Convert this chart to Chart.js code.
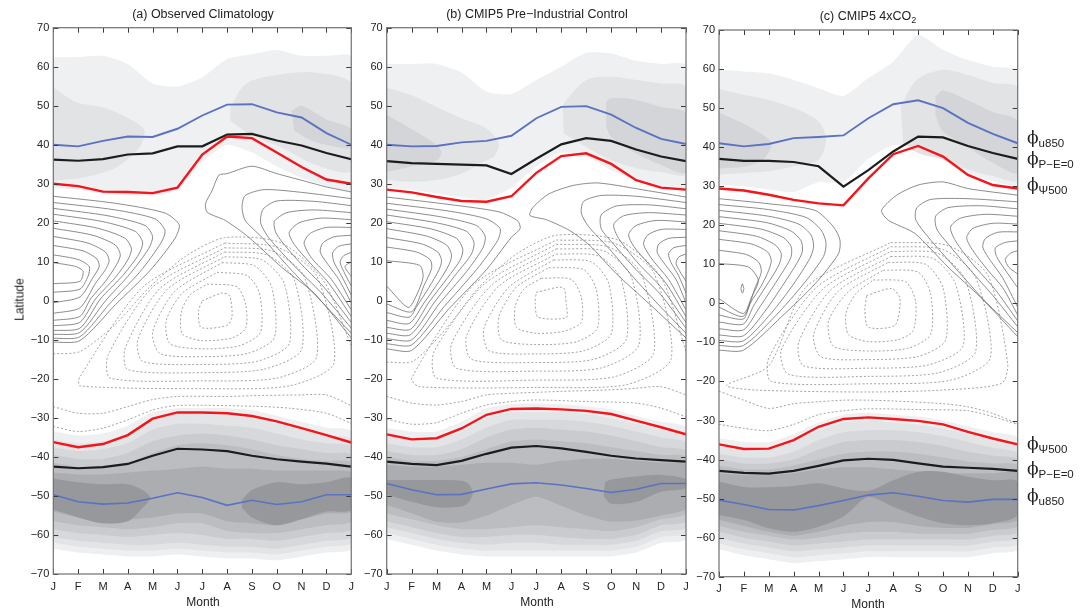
<!DOCTYPE html>
<html>
<head>
<meta charset="utf-8">
<script src="https://cdn.jsdelivr.net/npm/chart.js@4.4.1/dist/chart.umd.min.js"></script>
<style>
body{margin:0;background:#fff;width:1083px;height:612px;position:relative;overflow:hidden;font-family:"Liberation Sans",Arial,sans-serif;color:#222}
canvas{position:absolute;top:0}
.t{position:absolute;font-size:12.5px;line-height:15px;white-space:nowrap;transform:translateX(-50%)}
.lab{position:absolute;white-space:nowrap;font-size:12px;line-height:18px}
.lab .p{font-family:"DejaVu Serif",serif;font-size:17px}
.lab sub{font-size:11.5px;vertical-align:-4px}
</style>
</head>
<body>
<canvas id="ca" width="360" height="612" style="left:0px"></canvas>
<canvas id="cb" width="335" height="612" style="left:360px"></canvas>
<canvas id="cc" width="388" height="612" style="left:695px"></canvas>

<div class="t" style="left:203px;top:7px">(a) Observed Climatology</div>
<div class="t" style="left:537px;top:7px">(b) CMIP5 Pre−Industrial Control</div>
<div class="t" style="left:868px;top:9px">(c) CMIP5 4xCO<sub style="font-size:9px;vertical-align:-3px">2</sub></div>
<div class="t" style="left:203px;top:595px;font-size:12px">Month</div>
<div class="t" style="left:537px;top:595px;font-size:12px">Month</div>
<div class="t" style="left:868px;top:597px;font-size:12px">Month</div>
<div class="t" style="left:20px;top:292px;font-size:12px;transform:translateX(-50%) rotate(-90deg)">Latitude</div>

<div class="lab" style="left:1027px;top:128px"><span class="p">ϕ</span><sub>u850</sub></div>
<div class="lab" style="left:1027px;top:149px"><span class="p">ϕ</span><sub>P−E=0</sub></div>
<div class="lab" style="left:1027px;top:175px"><span class="p">ϕ</span><sub>Ψ500</sub></div>
<div class="lab" style="left:1027px;top:434px"><span class="p">ϕ</span><sub>Ψ500</sub></div>
<div class="lab" style="left:1027px;top:459px"><span class="p">ϕ</span><sub>P−E=0</sub></div>
<div class="lab" style="left:1027px;top:486px"><span class="p">ϕ</span><sub>u850</sub></div>

<script>
// month tick labels (J .. J, 13 points)
const months = ["J","F","M","A","M","J","J","A","S","O","N","D","J"];

// (a) observed climatology: edge latitudes
const obsU850N = [40,39.6,41,42.1,42,44.1,47.5,50.3,50.4,48.3,47,43,40];
const obsPE0N  = [36.2,35.9,36.3,37.5,37.8,39.6,39.6,42.6,42.8,41.1,39.8,37.9,36.3];
const obsPsiN  = [30,29.4,28,27.9,27.6,29,37.5,42.1,41.7,38,34.3,31.1,30];
const obsPsiS  = [-36.2,-37.5,-36.7,-34.4,-30.2,-28.6,-28.6,-28.8,-29.5,-30.9,-32.6,-34.4,-36.3];
const obsPE0S  = [-42.5,-42.9,-42.6,-41.8,-39.7,-37.9,-38.1,-38.5,-39.7,-40.6,-41.2,-41.7,-42.5];
const obsU850S = [-49.7,-51.5,-52.1,-51.8,-50.6,-49.2,-50.4,-52.4,-51.1,-52.2,-51.5,-49.7,-49.7];

// (b) CMIP5 pre-industrial control
const piU850N = [40,39.6,39.7,40.6,41,42.3,46.8,49.7,49.9,47.7,44.3,41.5,40.2];
const piPE0N  = [35.8,35.3,35.1,34.9,34.7,32.5,36.4,40.1,41.7,41,38.8,37,35.8];
const piPsiN  = [28.5,27.8,26.6,25.6,25.4,26.8,32.8,37.1,37.8,35.1,30.9,29,28.5];
const piPsiS  = [-34.2,-35.5,-35.2,-32.7,-29.2,-27.7,-27.6,-27.8,-28.2,-29,-30.7,-32.4,-34.2];
const piPE0S  = [-41.2,-41.8,-42.1,-41,-39.2,-37.6,-37.2,-37.8,-38.7,-39.7,-40.4,-40.8,-41.2];
const piU850S = [-46.8,-48.4,-49.7,-49.6,-48.2,-46.9,-46.6,-47.2,-48.1,-49.1,-48.3,-46.8,-46.8];

// (c) CMIP5 4xCO2
const co2U850N = [41,40.2,40.8,42.3,42.6,43,47.4,51,52,50,46.2,43.4,41];
const co2PE0N  = [37,36.5,36.5,36.2,35.1,29.9,34.1,38.9,42.7,42.5,40.3,38.5,37];
const co2PsiN  = [29.4,28.9,27.8,26.5,25.6,25.1,32,38.2,40.3,37.6,32.9,30.3,29.4];
const co2PsiS  = [-36.1,-37.3,-37.2,-35,-31.6,-29.6,-29.2,-29.6,-30.1,-31,-32.9,-34.6,-36.1];
const co2PE0S  = [-42.9,-43.4,-43.6,-42.9,-41.6,-40.2,-39.8,-40.1,-41,-41.8,-42.1,-42.4,-42.9];
const co2U850S = [-50.4,-51.5,-52.8,-52.9,-51.8,-50.5,-49.1,-48.5,-49.4,-50.5,-50.9,-50.2,-50.2];

// northern shading: outer band edges and blobs (x,lat pairs)
const obsNhTop = [62.4,62.5,62.8,60.7,55.7,54.9,57.3,62,63.2,64.3,62.8,62.8,62.6];
const obsNhBot = [29,28.5,27.5,27,27,28.5,35.5,40,38,34.5,31.5,29.5,28.5];
const obsNhMid = [[0,54.7,0.93,50.9,2,49.6,3.2,46.2,3.67,43.6,3.47,39.3,2.53,34.2,1.2,31.6,0,30.8],
                  [7.13,49.6,7.6,54.7,8,56.5,9.2,58.1,10.5,58.5,12,55.5,12,33.5,10.5,35,9.2,39.3,7.9,42.7,7.13,46.2]];
const obsNhDark = [[9.6,48.7,10,50,11,46.5,12,44,12,39.3,11,40,10.4,41,9.7,43.6]];

const piNhTop = [60.7,60.7,60.7,58.5,53.6,53,56.6,60,63.6,63.4,61.5,60.7,60.4];
const piNhBot = [29,28.5,27.5,26.5,26,29,34.5,38,37,33.5,31,29.5,29];
const piNhMid = [[0,54.6,1,52.7,2,49.7,3,46.8,4,44.2,4.5,40.3,4.3,37,4,36,3,32.6,2,31,1,30.5,0,31],
                 [7.05,50,7.2,51.5,8,56.6,9,57.4,10,56.6,11,55.7,12,54.7,12,32.6,11,33,10,34,9,36,8,39.5,7.1,42.9]];
const piNhDark = [[0,47.6,1,44,2,40,2.2,38,2,36,1,34.5,0,33],
                  [8.8,51,9,52,10,51.5,11,49.7,12,48,12,33,11,34.8,10,37.8,9,42,8.8,44.6]];

const co2NhTop = [59.8,59.4,58.9,57.2,55.1,53.1,57.7,61.9,68.7,64.9,62.3,60.6,59.6];
const co2NhBot = [30.4,30,29.1,28.5,31,31,37,40.5,39.5,36.8,33.4,31.3,30.4];
const co2NhMid = [[0,54.9,1,53.4,2,52.1,3,50,4,46.6,4.3,41.9,4,36.8,3,35.1,2,33.8,1,33.4,0,33],
                  [7.3,50.5,7.94,57.2,9,59.8,10,58.5,11,56.4,12,55.1,12,31.7,11,32.6,10,34.3,9,36.8,8,38.5,7.4,41]];
const co2NhDark = [[0,48.9,1,46,2,42,2.1,40,1.7,36.5,1,35,0,34.5],
                   [8.7,53,9,54.5,10,52,11,49,12,46.6,12,33.5,11,36,10,40,9,44,8.7,48]];

// southern shading: nested levels (top and bottom edges per month), darkest blobs
const obsShTop = [
 [-33.5,-34.5,-34,-32,-28.5,-27.5,-27.5,-27.5,-28,-29.5,-31,-32.5,-33.5],
 [-35.5,-36.5,-36,-34,-30.5,-29,-29,-29.5,-30,-31.5,-33,-34.5,-35.5],
 [-37.5,-38.5,-38,-36.5,-33,-31.5,-31.5,-32,-32.5,-34,-35.5,-36.5,-37.5],
 [-39.5,-40.5,-40.5,-39,-36,-34.5,-34,-34.5,-35.5,-37,-38,-39,-39.5],
 [-41.5,-42.5,-42.5,-41.5,-39,-37,-36.5,-37,-38,-39.5,-40.5,-41,-41.5],
 [-44,-44.5,-44.5,-44,-43.5,-43,-42.5,-43,-43,-43.5,-43.5,-43.5,-44]];
const obsShBot = [
 [-63.5,-64.5,-65,-65.5,-65.5,-65,-65.5,-66,-66,-66.5,-65.5,-64.5,-63.5],
 [-62,-63,-63.5,-64,-64,-63.5,-64,-64.5,-64.5,-65,-64,-63,-62],
 [-60.5,-61.5,-62,-62.5,-62.5,-62,-62.5,-63,-63,-63.5,-62.5,-61.5,-60.5],
 [-58.5,-59.5,-60,-60.5,-60,-59.5,-60,-61,-61,-61.5,-60.5,-59.5,-58.5],
 [-56.5,-57.5,-58,-58.5,-58,-57,-57,-59,-59.5,-59.5,-58.5,-57.5,-56.5],
 [-54,-55.5,-56,-56,-55.5,-54.5,-54.5,-56.5,-57,-57.5,-56,-54.5,-54]];
const obsShBlobs = [[0,-45.5,1,-46.5,2,-47,3,-47,3.6,-48.5,3.9,-50.5,3.6,-53,3,-56.5,2,-57,1,-55.5,0,-53.5],
                    [7.6,-51,8,-48.5,9,-46.5,10,-47,11,-46.5,12,-45.5,12,-53.5,11,-54,10,-56,9,-57.5,8,-55.5,7.6,-53]];

const piShTop = [
 [-32.5,-33.5,-33.5,-31,-27.5,-26.5,-26.3,-26.5,-27,-27.8,-29.5,-31,-32.5],
 [-34.5,-35.5,-35.5,-33.5,-30,-28.5,-28.5,-28.5,-29,-30,-31.5,-33,-34.5],
 [-36.5,-37.5,-37.5,-35.5,-32.5,-30.5,-30.5,-30.5,-31,-32,-33.5,-35,-36.5],
 [-38.5,-39.5,-39.5,-38,-35,-33,-32.5,-33,-33.5,-34.5,-36,-37.5,-38.5],
 [-40,-41,-41,-40,-38,-36,-35.5,-36,-36.5,-37.5,-38.5,-39.5,-40],
 [-42,-42.5,-42.5,-42,-41.5,-41.5,-42,-41,-40.5,-40.5,-41,-41.5,-42]];
const piShBot = [
 [-61,-62.5,-64,-65,-65.5,-65.5,-65.5,-65.5,-65.5,-65.5,-64.5,-62,-61],
 [-59.5,-61,-62.5,-63.5,-64,-64,-64,-64,-64,-64,-63,-60.5,-59.5],
 [-58,-59.5,-61,-62,-62.5,-62,-62,-62.5,-62.5,-62.5,-61.5,-59,-58],
 [-56.5,-58,-59.5,-60.5,-60.5,-60,-60,-60.5,-61,-61,-60,-57.5,-56.5],
 [-54.5,-56,-57.5,-58.5,-58.5,-58,-57.5,-58,-58.5,-59,-58,-56,-54.5],
 [-52.3,-54.4,-56.6,-56.8,-55,-52.3,-50.2,-52.5,-55,-56.6,-56.3,-55,-53.2]];
const piShBlobs = [[0,-45.9,1,-45.9,2,-45.9,3,-46.1,3.3,-47,3.45,-49.3,3.3,-51.5,3,-52.7,2,-52.9,1,-51.5,0,-49.7],
                   [8.75,-46.5,9,-45.8,10,-45,11,-44.6,12,-45.7,12,-48,11,-48.9,10,-51.5,9,-52,8.7,-50]];

const co2ShTop = [
 [-34.5,-35.5,-35.5,-33.5,-30.5,-28.5,-28,-28.5,-29,-30,-31.5,-33,-34.5],
 [-36.5,-37.5,-37.5,-35.5,-32.5,-30.5,-30,-30.5,-31,-32,-33.5,-35,-36.5],
 [-38.5,-39.5,-39.5,-38,-35,-33,-32.5,-32.5,-33,-34,-35.5,-37,-38.5],
 [-40,-41,-41,-40,-37.5,-35.5,-35,-35,-35.5,-36.5,-38,-39,-40],
 [-41.5,-42.5,-42.5,-41.5,-40,-38.5,-38,-38,-38.5,-39.5,-40.5,-41,-41.5],
 [-43.5,-44,-44,-43.5,-42.5,-42,-42,-42.5,-43,-43.5,-43.5,-43.5,-43.5]];
const co2ShBot = [
 [-63,-64.5,-65.5,-66.5,-66,-65.5,-65,-65,-65,-65,-65,-64,-63],
 [-61.5,-63,-64,-65,-64.5,-64,-63.5,-63.5,-63.5,-63.5,-63.5,-62.5,-61.5],
 [-60,-61.5,-62.5,-63.5,-63,-62.5,-62,-62,-62,-62,-62,-61,-60],
 [-58.5,-60,-61,-62,-61.5,-61,-60.5,-60.5,-60.5,-60.5,-60.5,-59.5,-58.5],
 [-57,-58.5,-59.5,-60.5,-60,-59,-58.5,-58.5,-59,-59,-59,-58,-57],
 [-55.5,-57,-58.5,-59.5,-58.5,-57,-56,-56,-57,-57.5,-57.5,-56.5,-55.5]];
const co2ShBlobs = [[0,-45.7,1,-47,2,-47.1,3,-46.8,4,-46.1,5,-47.4,6,-48,7,-45.3,8,-43.1,9,-43.1,10,-44.4,11,-45.3,12,-45.7,
                     12,-54.2,11,-56.3,10,-56.8,9,-56.3,8,-54.6,7,-52.1,6,-49.6,5,-54.6,4,-57.2,3,-58.5,2,-57.6,1,-55.5,0,-54.2]];

// streamfunction contours (x = month index, y = latitude), solid = positive, dashed = negative
const obsSolid = [
 [0,26.8,2.5,25,4.5,22.5,5.07,19.5,4.9,16,3.9,7.8,2.5,-1,1.07,-10.2,0,-10.6],
 [0,25.2,2.5,23.3,4.1,21,4.5,18,4.35,15,3.5,7.5,2.3,-0.5,1.07,-9.2,0,-9.6],
 [0,23.7,2.2,21.8,3.7,19.3,4,16.5,3.85,13.5,3.1,7,2.1,0,1.07,-8.1,0,-8.6],
 [0,22.2,2,20.3,3.3,17.8,3.6,15,3.45,12,2.8,6.5,1.9,0.5,1.07,-7,0,-7.6],
 [0,20.5,1.8,18.6,2.9,16,3.15,13.3,3,10.5,2.5,6,1.7,0.5,1.07,-5.5,0,-6.4],
 [0,18.6,1.6,16.8,2.5,14.3,2.7,11.8,2.55,9.3,2.1,5,1.5,0.5,1.07,-4,0,-5],
 [0,16.5,1.4,14.8,2.1,12.5,2.25,10.3,2.1,8,1.7,4.5,1.07,-1.8,0,-3.2],
 [0,14.2,1.2,12.8,1.75,10.8,1.85,8.8,1.6,6,1.07,1,0,-0.5],
 [0,11.8,1,10.6,1.45,8.8,1.4,6.3,1.07,3,0,2.2],
 [0,9.8,0.9,8.8,1.2,7.6,1.07,5,0,4.4],
 [12,27.9,11,29.2,10,30.9,9,32.6,8,34.5,7,32.6,6.67,32.2,6.4,28.3,6.13,24.9,6.2,22.7,6.93,20.6,7.87,16.3,9.2,8.6,10.53,1.8,12,-9.5],
 [12,26.2,10,27.8,8.5,28.5,7.73,27,7.6,24,7.73,20.6,8.4,16.3,9.5,8.5,10.7,0.5,12,-8.3],
 [12,24.4,10.5,25.5,9,25.6,8.45,23.5,8.35,20,8.7,16,9.7,9,10.8,2,12,-7],
 [12,22.6,10.5,23.3,9.4,22.6,8.9,20.3,9,17,9.9,10,10.9,3.5,12,-5.5],
 [12,20.8,10.8,21.2,9.9,20,9.5,17.5,9.7,14.5,10.3,10,11.1,4.5,12,-4],
 [12,18.8,11,18.8,10.35,17.3,10.1,14.8,10.4,11,11.2,5.5,12,-2.3],
 [12,16.8,11.3,16.4,10.85,14.8,10.75,12.5,11.1,9,11.5,5.5,12,-0.5],
 [12,14.6,11.5,14,11.25,12.3,11.3,10,11.6,6.5,12,1.5],
 [12,12.4,11.7,11.6,11.55,10,11.7,7.5,12,3.8],
 [12,10,11.75,8.8,12,6.2]];
const obsDashed = [
 [6,0,6.8,2,7.1,1.3,7.2,-4,7,-6.3,5.95,-6.8,5.85,-2.5,6,0],
 [6.2,4.3,7.4,3.6,7.75,-1,7.75,-7,7.2,-9.5,6,-10.2,5.2,-8.5,5.15,-3,5.5,1.5,6.2,4.3],
 [6.6,7.3,7.8,6.5,8.3,2,8.35,-8,7.5,-11.5,6,-12.3,4.7,-11,4.55,-5,5.2,2,6.6,7.3],
 [6.8,9.8,8.1,9,8.8,3.5,8.9,-9.5,7.8,-13.5,6,-14.3,4.3,-13.5,4,-8,4.9,2.5,6.8,9.8],
 [6.9,11.3,8.4,10.5,9.3,4.5,9.5,-11,8.2,-15.5,6,-16.3,3.6,-15.5,3.4,-10,4.6,3,6.9,11.3],
 [6.9,12.5,8.6,11.8,9.7,5.5,10,-12.5,8.5,-17.5,6,-18.4,3,-17.6,2.9,-12,4.3,3.2,6.9,12.5],
 [6.9,13.6,8.8,12.8,10.1,6.3,10.6,-14.5,9,-19.8,6,-20.5,2.3,-19.8,2.2,-14,4,3.5,6.9,13.6],
 [6.9,14.8,9,13.8,10.6,6.5,11.3,-16,9.5,-21.8,6,-22.5,1.07,-21.8,1.07,-19.5,3.6,3.5,6.9,14.8],
 [0,-13.6,1.07,-13,2.5,-6,3.8,3,5.3,11.3,6.9,16.2,9.2,14.8,10.9,5,12,-11.5],
 [0,-27.1,1,-28.8,2,-28.8,3,-27.1,4,-25.3,5,-24.5,7,-24.5,8,-24.3,10,-24.1,11,-24.1,12,-26.9],
 [0,-32.2,1,-33.5,2,-32.6,3,-30.5,4,-28,5,-26.8,8,-27,9.5,-27.5,11,-28.8,12,-31.4]];

const piSolid = [
 [0,26.6,2.5,24.7,4.5,22.8,5.25,20.5,5.35,18.5,5,16.3,4,8,2.5,-2,1,-12.7,0,-12.3],
 [0,25,2.5,23,4,21,4.55,18.5,4.45,15.5,3.6,8,2.3,-1.5,1,-11.3,0,-11],
 [0,23.5,2.2,21.5,3.6,19.3,3.95,16.5,3.85,13.5,3.2,7.5,2.1,-0.8,1,-10,0,-9.7],
 [0,22,2,20,3.2,17.8,3.5,15,3.4,12,2.8,7,1.9,-0.5,0.95,-8.7,0,-8.3],
 [0,20.3,1.8,18.4,2.8,16,3.05,13.3,2.95,10.5,2.45,6,1.7,-0.3,0.95,-7.3,0,-6.8],
 [0,18.5,1.6,16.6,2.4,14.3,2.6,11.8,2.5,9.3,2.1,5,1.5,-0.5,0.9,-5.8,0,-5],
 [0,16.2,1.4,14.6,2.05,12.5,2.2,10.3,2.1,8,1.7,3.5,1.2,-1.5,0.9,-4.2,0,-3],
 [0,13.8,1.2,12.5,1.75,10.5,1.8,8.3,1.5,4,1,-2.8,0,-0.8],
 [0,10.3,1.32,9.1,1.46,6.1,1.2,1.5,0.86,-1.7,0,3.8],
 [12,26.6,10.5,28.2,8.5,30.2,7.5,29.6,6.5,27.4,5.87,24,5.74,21.9,6.4,20.8,7.34,18,8.14,14.2,9.2,7,10.55,-0.9,12,-9.5],
 [12,25.2,10,26.8,8.6,27,7.9,25.5,7.8,22.5,8.1,19,8.9,13.5,9.9,6,10.9,-1,12,-8.3],
 [12,23.6,10.5,24.6,9.2,24.3,8.6,22,8.6,18.5,9.1,14.5,10,8,11,1.5,12,-7],
 [12,22,10.5,22.6,9.5,21.8,9.1,19.5,9.3,16,10.1,9.5,11,3.5,12,-5.5],
 [12,20.2,10.8,20.6,10,19.3,9.7,17,9.9,14,10.5,9.5,11.2,4.5,12,-4],
 [12,18.3,11,18.3,10.45,16.8,10.3,14.5,10.6,11,11.3,5.5,12,-2.3],
 [12,16.3,11.3,16,10.9,14.5,10.85,12.3,11.2,9,11.6,5.5,12,-0.5],
 [12,14.2,11.5,13.6,11.3,12,11.4,9.8,11.7,6.5,12,2],
 [12,12,11.7,11.2,11.6,9.6,11.75,7.6,12,5]];
const piDashed = [
 [6,2.2,7.07,3.4,7.2,-1,7.2,-4.3,6.07,-4.2,5.95,-0.5,6,2.2],
 [6.2,5.8,7.4,5.5,7.8,1,7.8,-5.5,7.1,-7.8,6,-8.3,5.2,-6.8,5.15,-1.5,5.5,3,6.2,5.8],
 [6.5,8.5,7.9,8,8.4,3,8.45,-7,7.6,-10.5,6,-11.2,4.6,-10,4.5,-4,5.2,3.5,6.5,8.5],
 [6.7,10.5,8.2,10,8.9,4.5,9,-8.5,7.9,-12.8,6,-13.6,4.1,-12.8,3.9,-7,4.9,3.5,6.7,10.5],
 [6.8,12,8.5,11.5,9.4,5.5,9.6,-10,8.3,-15,6,-15.8,3.4,-15,3.2,-9,4.5,3.8,6.8,12],
 [6.8,13.3,8.7,12.8,9.8,6.3,10.1,-11.5,8.6,-17.2,6,-18,2.8,-17.3,2.6,-11,4.2,4,6.8,13.3],
 [6.8,14.5,8.9,13.8,10.2,7,10.7,-13.5,9.1,-19.5,6,-20.3,2,-19.8,1.9,-13,3.9,4.2,6.8,14.5],
 [6.8,15.6,9.1,14.8,10.7,7.3,11.4,-15,9.6,-21.5,6,-22.2,1.3,-22,1,-19.8,3.5,4.2,6.8,15.6],
 [0,-15.7,1.05,-15.5,2.4,-7,3.7,3.5,5.2,12,6.8,16.8,9.3,15.5,11,6,12,-13],
 [0,-24.5,1,-26.2,2,-26.7,3,-25.8,4,-24.1,5,-23.7,7,-23.2,9,-22.8,10,-22.4,11,-22,12,-24.1],
 [0,-30.3,1,-31.6,2,-31.2,3,-28.8,4,-26.7,5,-25.8,6,-25.4,8,-25.8,10,-26.2,11,-27.5,12,-29.7]];

const co2Solid = [
 [0,26.8,2,25.5,3.86,23.8,4.6,19.6,4.86,16.2,4.8,12.7,3.86,5,2.5,-3.5,0.98,-12,0,-12],
 [0,25.3,2,24,3.5,22,4.1,18.8,4.3,15.5,4.2,12,3.4,5,2.3,-3,0.98,-10.8,0,-10.8],
 [0,23.8,2,22.3,3.2,20.3,3.7,17.5,3.8,14.5,3.65,11.5,3,5,2.1,-2.5,0.98,-9.6,0,-9.5],
 [0,22.2,1.9,20.7,2.9,18.5,3.3,16,3.35,13.3,3.15,10.5,2.6,5,1.85,-2,0.98,-8.3,0,-8.1],
 [0,20.5,1.7,19,2.6,16.8,2.9,14.5,2.9,12,2.7,9.5,2.25,5,1.6,-1.3,0.98,-6.8,0,-6.5],
 [0,18.6,1.5,17.2,2.25,15,2.5,12.8,2.45,10.5,2.25,8,1.9,4.5,1.4,-0.5,0.98,-5.3,0,-4.8],
 [0,16.4,1.3,15.2,1.95,13.2,2.1,11,2,8.5,1.7,4.5,1.25,0,0.98,-4,0,-3],
 [0,13.6,1.1,12.5,1.6,10.5,1.7,8,1.45,4,0.98,-3.3,0,-1],
 [0,10.2,1.18,9.3,1.58,5.9,1.3,1.5,0.98,-2.6,0,1.2],
 [0.94,5,1,3.8,0.94,2.6,0.88,3.8,0.94,5],
 [12,27.7,10,29.4,9,31.1,8,30.3,7.14,27.7,6.53,23.8,6.8,21.3,7.87,17.9,9.2,9.3,10.5,1.6,12,-8.5],
 [12,26,10,26.8,8.5,26.6,7.95,24.5,7.9,21.5,8.4,17,9.5,9,10.7,0.5,12,-7.5],
 [12,24.2,10.5,25,9.2,24.5,8.7,22.3,8.75,19,9.3,14.5,10.1,8.5,11,2,12,-6],
 [12,22.3,10.7,22.8,9.7,21.8,9.3,19.5,9.5,16,10.2,10,11.1,3.5,12,-4.5],
 [12,20.3,11,20.5,10.2,19.2,9.95,16.8,10.2,13.5,10.8,8.5,11.4,4,12,-3],
 [12,18.3,11.2,18.2,10.7,16.6,10.6,14.3,10.9,11,11.4,6.5,12,-1],
 [12,16,11.5,15.6,11.1,14.2,11.15,12,11.45,9,12,4],
 [12,13.5,11.7,12.8,11.5,11.2,11.65,9.2,12,7.5]];
const co2Dashed = [
 [5.93,2,6.93,3.8,7.27,1.2,7.07,-5.6,6,-6.1,5.86,-1.8,5.93,2],
 [6.2,6,7.5,5.5,7.9,0.5,7.8,-7,7.2,-9.3,6,-9.8,5.2,-8,5.1,-2.5,5.5,2.5,6.2,6],
 [6.6,8.5,8,8,8.5,2.5,8.5,-8,7.6,-11.5,6,-12.2,4.6,-11,4.4,-4.5,5.2,3,6.6,8.5],
 [6.8,10.5,8.3,10,9,4,9.1,-9.5,8,-13.6,6,-14.4,4.1,-13.7,3.8,-8,4.8,3.2,6.8,10.5],
 [6.9,12,8.6,11.5,9.5,5,9.8,-11,8.4,-15.8,6,-16.6,3.4,-16,3.2,-10,4.5,3.5,6.9,12],
 [6.9,13.3,8.8,12.8,9.9,6,10.3,-12.5,8.8,-17.8,6,-18.7,2.8,-18.2,2.5,-12,4.2,3.8,6.9,13.3],
 [6.9,14.5,9,13.8,10.3,6.8,10.9,-14,9.3,-19.7,6,-20.6,2.1,-20,2,-14,3.9,4,6.9,14.5],
 [6.9,15.6,9.2,14.8,10.8,7.2,11.6,-15.5,11.35,-20.5,9,-22.2,6,-22.7,1.5,-22.2,0.3,-21,2,-16,3.5,4.2,6.9,15.6],
 [0,-22.5,1,-24.8,2,-26.9,3,-25.7,4,-25.2,5,-24.8,6,-24.8,7,-25,9,-25.7,10,-26.5,11,-28.2,12,-30.8],
 [0,-31,1,-32,2,-32.6,3,-31,4,-28.5,5,-27.5,6,-27,8,-27.2,10,-27.5,11,-29,12,-31]];

// drawing styles
const RED = "#f5141a", BLACK = "#1c1c1c", BLUE = "#5b72c2";
const NH_COLORS = ["#eff0f2", "#e2e3e5", "#d4d5d8"];
const SH_COLORS = ["#eeeff1", "#e3e4e6", "#d7d8db", "#cacbce", "#bcbdc0", "#acadb0"];
const SH_DARK = "#97989b";

function pairs(flat) {
  const pts = [];
  for (let i = 0; i < flat.length; i += 2) pts.push({x: flat[i], y: flat[i + 1]});
  return pts;
}
function band(top, bot) {
  const up = top.map((v, i) => ({x: i, y: v}));
  const dn = bot.map((v, i) => ({x: i, y: v})).reverse();
  return up.concat(dn);
}
function area(points, color, order, tension) {
  return {data: points, fill: "shape", backgroundColor: color, borderWidth: 0, borderColor: "rgba(0,0,0,0)",
          pointRadius: 0, order: order, tension: tension || 0};
}
function contour(flat, dashed) {
  return {data: pairs(flat), fill: false, borderColor: dashed ? "#8c8c8c" : "#6e6e6e", borderWidth: 0.8,
          borderDash: dashed ? [2, 2] : [], pointRadius: 0, tension: 0.25, order: 1};
}
function edge(vals, color, width) {
  return {data: vals.map((v, i) => ({x: i, y: v})), fill: false, borderColor: color, borderWidth: width,
          pointRadius: 0, tension: 0, order: 0};
}

const frame = {
  id: "frame",
  afterDraw(chart) {
    const {ctx, chartArea: a, scales: {x, y}} = chart;
    ctx.save();
    ctx.strokeStyle = "#3a3a3a";
    ctx.lineWidth = 1;
    ctx.beginPath();
    x.ticks.forEach(t => {
      const px = Math.round(x.getPixelForValue(t.value)) + 0.5;
      ctx.moveTo(px, a.bottom); ctx.lineTo(px, a.bottom - 5);
      ctx.moveTo(px, a.top); ctx.lineTo(px, a.top + 5);
    });
    y.ticks.forEach(t => {
      const py = Math.round(y.getPixelForValue(t.value)) + 0.5;
      ctx.moveTo(a.left, py); ctx.lineTo(a.left + 5, py);
      ctx.moveTo(a.right, py); ctx.lineTo(a.right - 5, py);
    });
    ctx.stroke();
    ctx.strokeStyle = "#707070";
    ctx.lineWidth = 1.2;
    ctx.strokeRect(a.left, a.top, a.right - a.left, a.bottom - a.top);
    ctx.restore();
  }
};

function makePanel(id, geo, d) {
  const sets = [];
  sets.push(area(band(d.nhTop, d.nhBot), NH_COLORS[0], 30, 0.2));
  d.nhMid.forEach(p => sets.push(area(pairs(p), NH_COLORS[1], 29, 0.3)));
  d.nhDark.forEach(p => sets.push(area(pairs(p), NH_COLORS[2], 28, 0.3)));
  d.shTop.forEach((t, k) => sets.push(area(band(t, d.shBot[k]), SH_COLORS[k], 20 - k, 0.2)));
  d.shBlobs.forEach(p => sets.push(area(pairs(p), SH_DARK, 10, 0.3)));
  d.solid.forEach(c => sets.push(contour(c, false)));
  d.dashed.forEach(c => sets.push(contour(c, true)));
  sets.push(edge(d.psiN, RED, 2.4), edge(d.psiS, RED, 2.4));
  sets.push(edge(d.pe0N, BLACK, 2.2), edge(d.pe0S, BLACK, 2.2));
  sets.push(edge(d.u850N, BLUE, 1.9), edge(d.u850S, BLUE, 1.6));

  new Chart(document.getElementById(id), {
    type: "line",
    data: {datasets: sets},
    options: {
      responsive: false, animation: false, events: [],
      layout: {padding: {top: geo.top, right: geo.right, left: 0, bottom: 0}},
      plugins: {legend: {display: false}, tooltip: {enabled: false}},
      scales: {
        x: {type: "linear", min: 0, max: 12,
            grid: {display: false, drawTicks: false}, border: {display: false},
            ticks: {stepSize: 1, autoSkip: false, maxRotation: 0, padding: 6, color: "#222",
                    font: {family: "Liberation Sans", size: 11},
                    callback: v => months[v]},
            afterFit: s => { s.height = geo.bottom; }},
        y: {min: -70, max: 70,
            grid: {display: false, drawTicks: false}, border: {display: false},
            ticks: {stepSize: 10, autoSkip: false, padding: 4, color: "#222",
                    font: {family: "Liberation Sans", size: 11},
                    callback: v => String(v).replace("-", "\u2212")},
            afterFit: s => { s.width = geo.axis; }}
      }
    },
    plugins: [frame]
  });
}

makePanel("ca", {top: 27.7, right: 7.3, axis: 53.3, bottom: 38}, {
  u850N: obsU850N, pe0N: obsPE0N, psiN: obsPsiN, psiS: obsPsiS, pe0S: obsPE0S, u850S: obsU850S,
  nhTop: obsNhTop, nhBot: obsNhBot, nhMid: obsNhMid, nhDark: obsNhDark,
  shTop: obsShTop, shBot: obsShBot, shBlobs: obsShBlobs, solid: obsSolid, dashed: obsDashed});

makePanel("cb", {top: 27.7, right: 9, axis: 26.7, bottom: 38}, {
  u850N: piU850N, pe0N: piPE0N, psiN: piPsiN, psiS: piPsiS, pe0S: piPE0S, u850S: piU850S,
  nhTop: piNhTop, nhBot: piNhBot, nhMid: piNhMid, nhDark: piNhDark,
  shTop: piShTop, shBot: piShBot, shBlobs: piShBlobs, solid: piSolid, dashed: piDashed});

makePanel("cc", {top: 30, right: 65.3, axis: 24, bottom: 35.3}, {
  u850N: co2U850N, pe0N: co2PE0N, psiN: co2PsiN, psiS: co2PsiS, pe0S: co2PE0S, u850S: co2U850S,
  nhTop: co2NhTop, nhBot: co2NhBot, nhMid: co2NhMid, nhDark: co2NhDark,
  shTop: co2ShTop, shBot: co2ShBot, shBlobs: co2ShBlobs, solid: co2Solid, dashed: co2Dashed});
</script>
</body>
</html>
